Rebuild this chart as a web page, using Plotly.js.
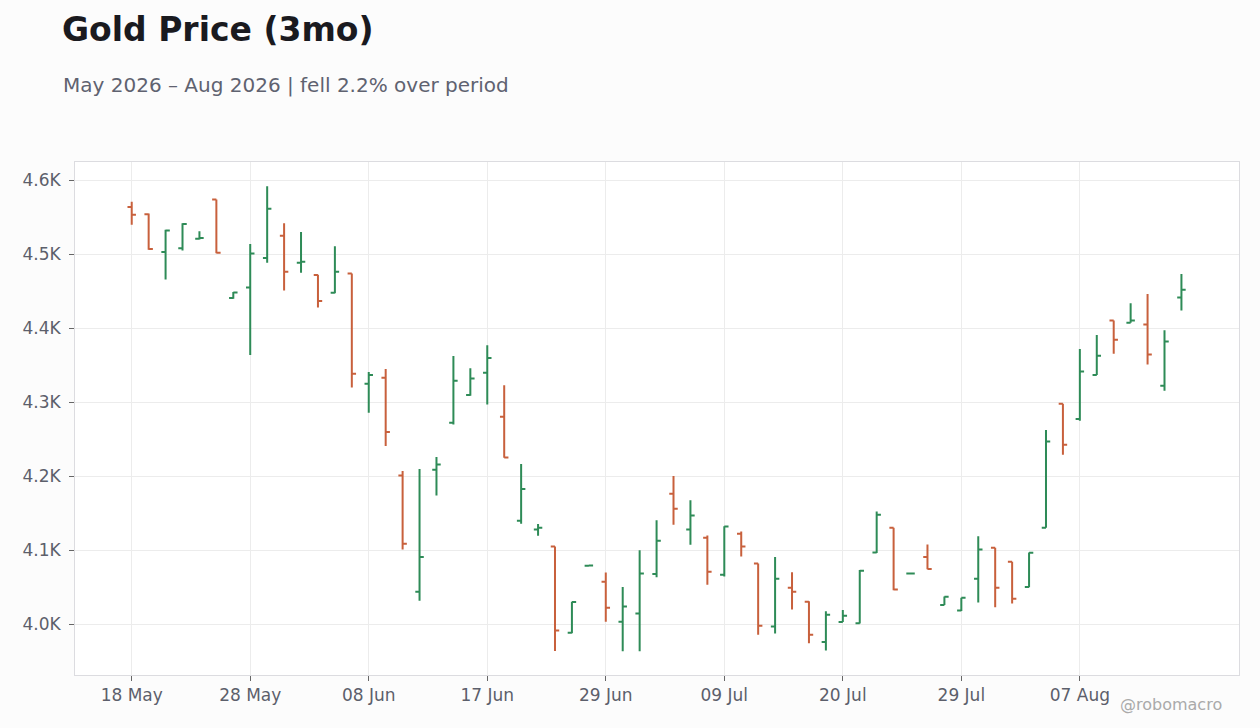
<!DOCTYPE html>
<html><head><meta charset="utf-8">
<script src="https://cdn.plot.ly/plotly-3.0.1.min.js"></script>
<style>html,body{margin:0;padding:0;background:#fcfcfc}#chart{width:1260px;height:728px}</style>
</head><body><div id="chart"></div>
<script>
const dates = [
 '2026-05-18','2026-05-19','2026-05-20','2026-05-21','2026-05-22','2026-05-26','2026-05-27','2026-05-28','2026-05-29',
 '2026-06-01','2026-06-02','2026-06-03','2026-06-04','2026-06-05','2026-06-08','2026-06-09','2026-06-10','2026-06-11','2026-06-12',
 '2026-06-15','2026-06-16','2026-06-17','2026-06-18','2026-06-22','2026-06-23','2026-06-24','2026-06-25','2026-06-26','2026-06-29',
 '2026-06-30','2026-07-01','2026-07-02','2026-07-06','2026-07-07','2026-07-08','2026-07-09','2026-07-10','2026-07-13','2026-07-14',
 '2026-07-15','2026-07-16','2026-07-17','2026-07-20','2026-07-21','2026-07-22','2026-07-23','2026-07-24','2026-07-27','2026-07-28',
 '2026-07-29','2026-07-30','2026-07-31','2026-08-03','2026-08-04','2026-08-05','2026-08-06','2026-08-07','2026-08-10','2026-08-11',
 '2026-08-12','2026-08-13','2026-08-14','2026-08-17'
];
const openP = [
 4564,4554,4503,4508,4521,4574,4441,4455,4495,4525,
 4488.5,4472,4448,4474,4325,4333,4201,4044,4209,4272.5,
 4310,4340,4280.5,4140,4128,4105,3988.5,4079,4057.5,4003.5,
 4014.5,4068,4176.5,4128,4117,4067,4122.5,4082,3997,4049.5,
 4030.5,3976,4003,4001.5,4097,4130.5,4068.5,4091,4026,4018.5,
 4061.5,4103.5,4084.5,4050.5,4130.5,4298,4277.5,4337,4410.5,4407.5,
 4405,4322.5,4441.5
];
const highP = [
 4571,4555,4533,4542,4531,4574,4449,4514,4592,4542,
 4530,4472.5,4511,4474,4341,4345,4207,4210,4226,4362.5,
 4346,4377,4323,4216.5,4135.5,4105,4030.5,4079.3,4070,4050.5,
 4100,4140.5,4200.5,4167.5,4120,4132.5,4125.5,4082,4091,4070.5,
 4031,4017.5,4019.5,4073.5,4152.5,4130.5,4068.8,4108,4037.5,4036,
 4119,4103.5,4084.5,4097,4262.5,4298,4372,4391,4410.5,4434,
 4446.5,4397.5,4473.5
];
const lowP = [
 4540,4506,4466,4505,4520,4501.5,4440,4364,4488.5,4451,
 4475,4428,4447.5,4320,4286,4241,4101,4032,4174,4270,
 4309,4297,4225,4136,4119.5,3964,3988,4079,4003.5,3963.5,
 3963.5,4063.5,4134.5,4107.5,4053.5,4064.5,4091.5,3986,3987.5,4020,
 3974.5,3964.5,4003,4001,4096.5,4046,4068.5,4074.5,4026,4018,
 4029.5,4023,4028,4050,4130.5,4229,4275,4337,4365.5,4407.5,
 4351,4315.5,4424
];
const closeP = [
 4553.5,4507,4532,4541,4522,4502,4448.5,4501,4561.5,4476.5,
 4490,4437,4476.5,4338.5,4337,4260,4109,4091,4216,4329,
 4332,4360,4225.5,4183,4130.5,3991.5,4030,4079.3,4022.5,4024,
 4068.5,4113,4156,4147,4071,4132,4105,3998,4061.5,4044,
 3986,4013,4011.5,4072.5,4148,4047,4068.8,4074.7,4037.3,4036,
 4101,4049.5,4034.5,4096.8,4247,4242.5,4341.5,4363,4384.5,4410.5,
 4364.5,4382,4452
];
const tickDates = ['2026-05-18','2026-05-28','2026-06-08','2026-06-17','2026-06-29','2026-07-09','2026-07-20','2026-07-29','2026-08-07'];
const tickLabels = ['18 May','28 May','08 Jun','17 Jun','29 Jun','09 Jul','20 Jul','29 Jul','07 Aug'];
const yTickVals = [4000,4100,4200,4300,4400,4500,4600];
const yTickLabels = ['4.0K','4.1K','4.2K','4.3K','4.4K','4.5K','4.6K'];

const FONT = 'DejaVu Sans, Verdana, sans-serif';
const trace = {
  type: 'ohlc', x: dates, open: openP, high: highP, low: lowP, close: closeP,
  increasing: {line: {color: '#2e8b57', width: 2}},
  decreasing: {line: {color: '#c8603c', width: 2}},
  tickwidth: 0.25, hoverinfo: 'skip', showlegend: false
};
const axisCommon = {
  ticks: 'outside', ticklen: 5, tickcolor: '#666', tickwidth: 1,
  showgrid: true, gridcolor: '#ececec', gridwidth: 1,
  showline: true, mirror: true, linecolor: '#dcdce0', linewidth: 1,
  zeroline: false, fixedrange: true,
  tickfont: {family: FONT, size: 17, color: '#5c5f6b'}
};
const layout = {
  width: 1260, height: 728,
  margin: {l: 75, r: 21, t: 162, b: 53},
  paper_bgcolor: '#fcfcfc', plot_bgcolor: '#ffffff',
  title: {text: 'Gold Price (3mo)', font: {family: FONT, size: 33, color: '#1a1a1f', weight: 'bold'},
          x: 62/1260, xanchor: 'left', xref: 'container', yref: 'container', y: 1 - 29/728, yanchor: 'middle'},
  xaxis: Object.assign({}, axisCommon, {type: 'category', range: [-3.35, 65.4],
          tickvals: tickDates, ticktext: tickLabels, rangeslider: {visible: false}}),
  yaxis: Object.assign({}, axisCommon, {range: [3931.5, 4624.7], tickvals: yTickVals, ticktext: yTickLabels,
          ticklabelstandoff: 5}),
  annotations: [
    {text: 'May 2026 – Aug 2026 | fell 2.2% over period', xref: 'paper', yref: 'paper',
     x: (61 - 75)/1164, xanchor: 'left', y: (675 - 85)/513, yanchor: 'middle', showarrow: false,
     font: {family: FONT, size: 20, color: '#5f6270'}},
    {text: '@robomacro', xref: 'paper', yref: 'paper', x: (1224 - 75)/1164, xanchor: 'right',
     y: (675 - 704)/513, yanchor: 'middle', showarrow: false,
     font: {family: FONT, size: 16, color: '#aaaaaa'}}
  ],
  hovermode: false
};
Plotly.newPlot('chart', [trace], layout, {displayModeBar: false, staticPlot: true});
</script>
</body></html>
